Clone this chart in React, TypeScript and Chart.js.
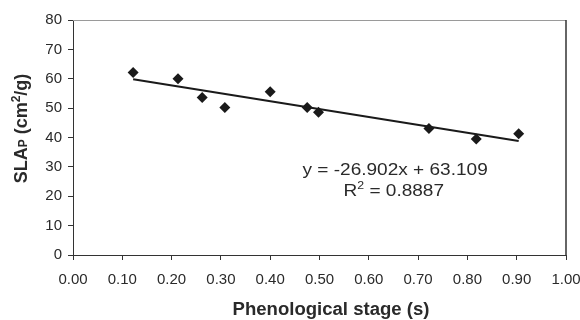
import React, { useEffect, useRef } from "react";
import { Chart, registerables } from "chart.js";

Chart.register(...registerables);

// Phenological stage (s) and SLA_P (cm²/g)
const phenStage = [0.122, 0.213, 0.262, 0.308, 0.4, 0.475, 0.498, 0.722, 0.818, 0.904];
const slaP = [62.1, 60.0, 53.6, 50.2, 55.6, 50.2, 48.6, 43.1, 39.5, 41.3];

// Linear trendline shown in the chart
const trendSlope = -26.902;
const trendIntercept = 63.109;
const equationText = "y = -26.902x + 63.109";
const r2Value = "0.8887";

const xAxisMin = 0;
const xAxisMax = 1;
const xAxisStep = 0.1;
const yAxisMin = 0;
const yAxisMax = 80;
const yAxisStep = 10;

const xTitle = "Phenological stage (s)";

const FONT = "'Liberation Sans', Arial, Helvetica, sans-serif";
const INK = "#1a1a1a";
const TEXT = "#2a2a2a";

type Part = [string, string, number];

function drawParts(ctx: CanvasRenderingContext2D, parts: Part[], x: number, y: number, sx: number, align: "left" | "center") {
  let total = 0;
  for (const [t, f] of parts) {
    ctx.font = f;
    total += ctx.measureText(t).width;
  }
  ctx.save();
  ctx.translate(x, y);
  ctx.scale(sx, 1);
  ctx.textAlign = "left";
  ctx.textBaseline = "alphabetic";
  let cx = align === "center" ? -total / 2 : 0;
  for (const [t, f, dy] of parts) {
    ctx.font = f;
    ctx.fillText(t, cx, dy);
    cx += ctx.measureText(t).width;
  }
  ctx.restore();
}

const annotationPlugin = {
  id: "annotations",
  afterDraw(chart: any) {
    const ctx = chart.ctx as CanvasRenderingContext2D;
    const area = chart.chartArea;
    ctx.save();

    // frame: top (light) and right (dark) borders
    ctx.lineWidth = 1;
    ctx.strokeStyle = "#9a9a9a";
    ctx.beginPath();
    ctx.moveTo(area.left, area.top + 0.5);
    ctx.lineTo(area.right, area.top + 0.5);
    ctx.stroke();
    ctx.strokeStyle = "#333";
    ctx.lineWidth = 1.5;
    ctx.beginPath();
    ctx.moveTo(area.right, area.top);
    ctx.lineTo(area.right, area.bottom);
    ctx.stroke();

    ctx.fillStyle = TEXT;

    // equation + R²
    const ef = `17px ${FONT}`;
    const sf = `11px ${FONT}`;
    drawParts(ctx, [[equationText, ef, 0]], 302.5, 175, 1.12, "left");
    drawParts(ctx, [["R", ef, 0], ["2", sf, -7], [" = " + r2Value, ef, 0]], 343.5, 195.5, 1.12, "left");

    // x title
    drawParts(ctx, [[xTitle, `bold 17.5px ${FONT}`, 0]], 331, 315, 1.06, "center");

    // y title with subscript / superscript (rotated)
    const bf = `bold 18px ${FONT}`;
    const bs = `bold 12px ${FONT}`;
    ctx.save();
    ctx.translate(27, 128.5);
    ctx.rotate(-Math.PI / 2);
    drawParts(ctx, [["SLA", bf, 0], ["P", bs, 0], [" (cm", bf, 0], ["2", bs, -7], ["/g)", bf, 0]], 0, 0, 1, "center");
    ctx.restore();

    ctx.restore();
  },
};

export default function App() {
  const ref = useRef<HTMLCanvasElement | null>(null);

  useEffect(() => {
    if (!ref.current) return;
    const minX = Math.min(...phenStage);
    const maxX = Math.max(...phenStage);
    const trend = [minX, maxX].map((x) => ({ x, y: trendSlope * x + trendIntercept }));

    const chart = new Chart(ref.current, {
      type: "scatter",
      data: {
        datasets: [
          {
            label: "Trend",
            data: trend,
            showLine: true,
            borderColor: INK,
            borderWidth: 2,
            pointRadius: 0,
            fill: false,
          },
          {
            label: "SLAp",
            data: phenStage.map((x, i) => ({ x, y: slaP[i] })),
            pointStyle: "rectRot",
            pointRadius: 5.5,
            backgroundColor: INK,
            borderColor: INK,
            borderWidth: 0,
            showLine: false,
          },
        ],
      },
      options: {
        responsive: false,
        animation: false,
        devicePixelRatio: 1,
        layout: { padding: { top: 20, right: 14, left: 0, bottom: 0 } },
        plugins: {
          legend: { display: false },
          tooltip: { enabled: false },
        },
        scales: {
          x: {
            type: "linear",
            min: xAxisMin,
            max: xAxisMax,
            afterFit: (s: any) => {
              s.height = 65;
              s.paddingLeft = 0;
              s.paddingRight = 0;
            },
            ticks: {
              stepSize: xAxisStep,
              callback: (v: any) => Number(v).toFixed(2),
              font: { family: FONT, size: 15 },
              color: TEXT,
              padding: 11,
              maxRotation: 0,
              autoSkip: false,
            },
            grid: {
              display: true,
              drawOnChartArea: false,
              drawTicks: true,
              tickLength: 5,
              color: "#333",
            },
            border: { display: true, color: "#333", width: 1 },
          },
          y: {
            type: "linear",
            min: yAxisMin,
            max: yAxisMax,
            afterFit: (s: any) => {
              s.width = 73;
              s.paddingTop = 0;
              s.paddingBottom = 0;
            },
            ticks: {
              stepSize: yAxisStep,
              font: { family: FONT, size: 15 },
              color: TEXT,
              padding: 6,
            },
            grid: {
              display: true,
              drawOnChartArea: false,
              drawTicks: true,
              tickLength: 5,
              color: "#333",
            },
            border: { display: true, color: "#333", width: 1 },
          },
        },
      },
      plugins: [annotationPlugin],
    });
    return () => chart.destroy();
  }, []);

  return (
    <div style={{ position: "fixed", left: 0, top: 0, width: 580, height: 320, background: "#fff" }}>
      <canvas ref={ref} width={580} height={320} />
    </div>
  );
}
